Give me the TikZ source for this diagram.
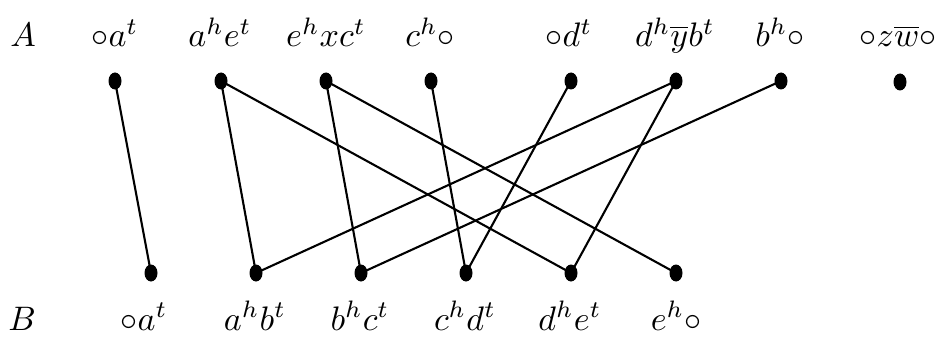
\documentclass[tikz,border=0pt]{standalone}
\usetikzlibrary{shapes.geometric}
\begin{document}
\begin{tikzpicture}[x=1pt,y=-1pt,
  dot/.style={ellipse,fill=black,inner sep=0pt,minimum width=13pt,minimum height=17pt},
  lab/.style={anchor=base,inner sep=0pt,scale=3.4},
  edge/.style={line width=2.1pt,black}]
\useasboundingbox (0,0) rectangle (938,337);
% labels
\node[lab] (A) at (23,47) {$A$};
\node[lab] (la1) at (115,47) {$\circ a^t$};
\node[lab] (la2) at (220,47) {$a^h e^t$};
\node[lab] (la3) at (326,47) {$e^h x c^t$};
\node[lab] (la4) at (430,47) {$c^h\circ$};
\node[lab] (la5) at (569,47) {$\circ d^t$};
\node[lab] (la6) at (675,47) {$d^h\overline{y}b^t$};
\node[lab] (la7) at (780,47) {$b^h\circ$};
\node[lab] (la8) at (898,47) {$\circ z\overline{w}\circ$};
\node[lab] (B) at (22,330) {$B$};
\node[lab] (lb1) at (144,330) {$\circ a^t$};
\node[lab] (lb2) at (255,330) {$a^h b^t$};
\node[lab] (lb3) at (360,330) {$b^h c^t$};
\node[lab] (lb4) at (465,330) {$c^h d^t$};
\node[lab] (lb5) at (570,330) {$d^h e^t$};
\node[lab] (lb6) at (676,330) {$e^h\circ$};
% dots
\node[dot] (t1) at (115,81) {};
\node[dot] (t2) at (221,81) {};
\node[dot] (t3) at (326,81) {};
\node[dot] (t4) at (431,81) {};
\node[dot] (t5) at (571,81) {};
\node[dot] (t6) at (676,81) {};
\node[dot] (t7) at (781,81) {};
\node[dot] (t8) at (900,82) {};
\node[dot] (b1) at (151,273) {};
\node[dot] (b2) at (256,273) {};
\node[dot] (b3) at (361,273) {};
\node[dot] (b4) at (466,273) {};
\node[dot] (b5) at (571,273) {};
\node[dot] (b6) at (676,273) {};
% edges
\draw[edge] (t1.center) -- (b1.center);
\draw[edge] (t2.center) -- (b2.center);
\draw[edge] (t2.center) -- (b5.center);
\draw[edge] (t3.center) -- (b3.center);
\draw[edge] (t3.center) -- (b6.center);
\draw[edge] (t4.center) -- (b4.center);
\draw[edge] (t5.center) -- (b4.center);
\draw[edge] (t6.center) -- (b2.center);
\draw[edge] (t6.center) -- (b5.center);
\draw[edge] (t7.center) -- (b3.center);
\end{tikzpicture}
\end{document}
